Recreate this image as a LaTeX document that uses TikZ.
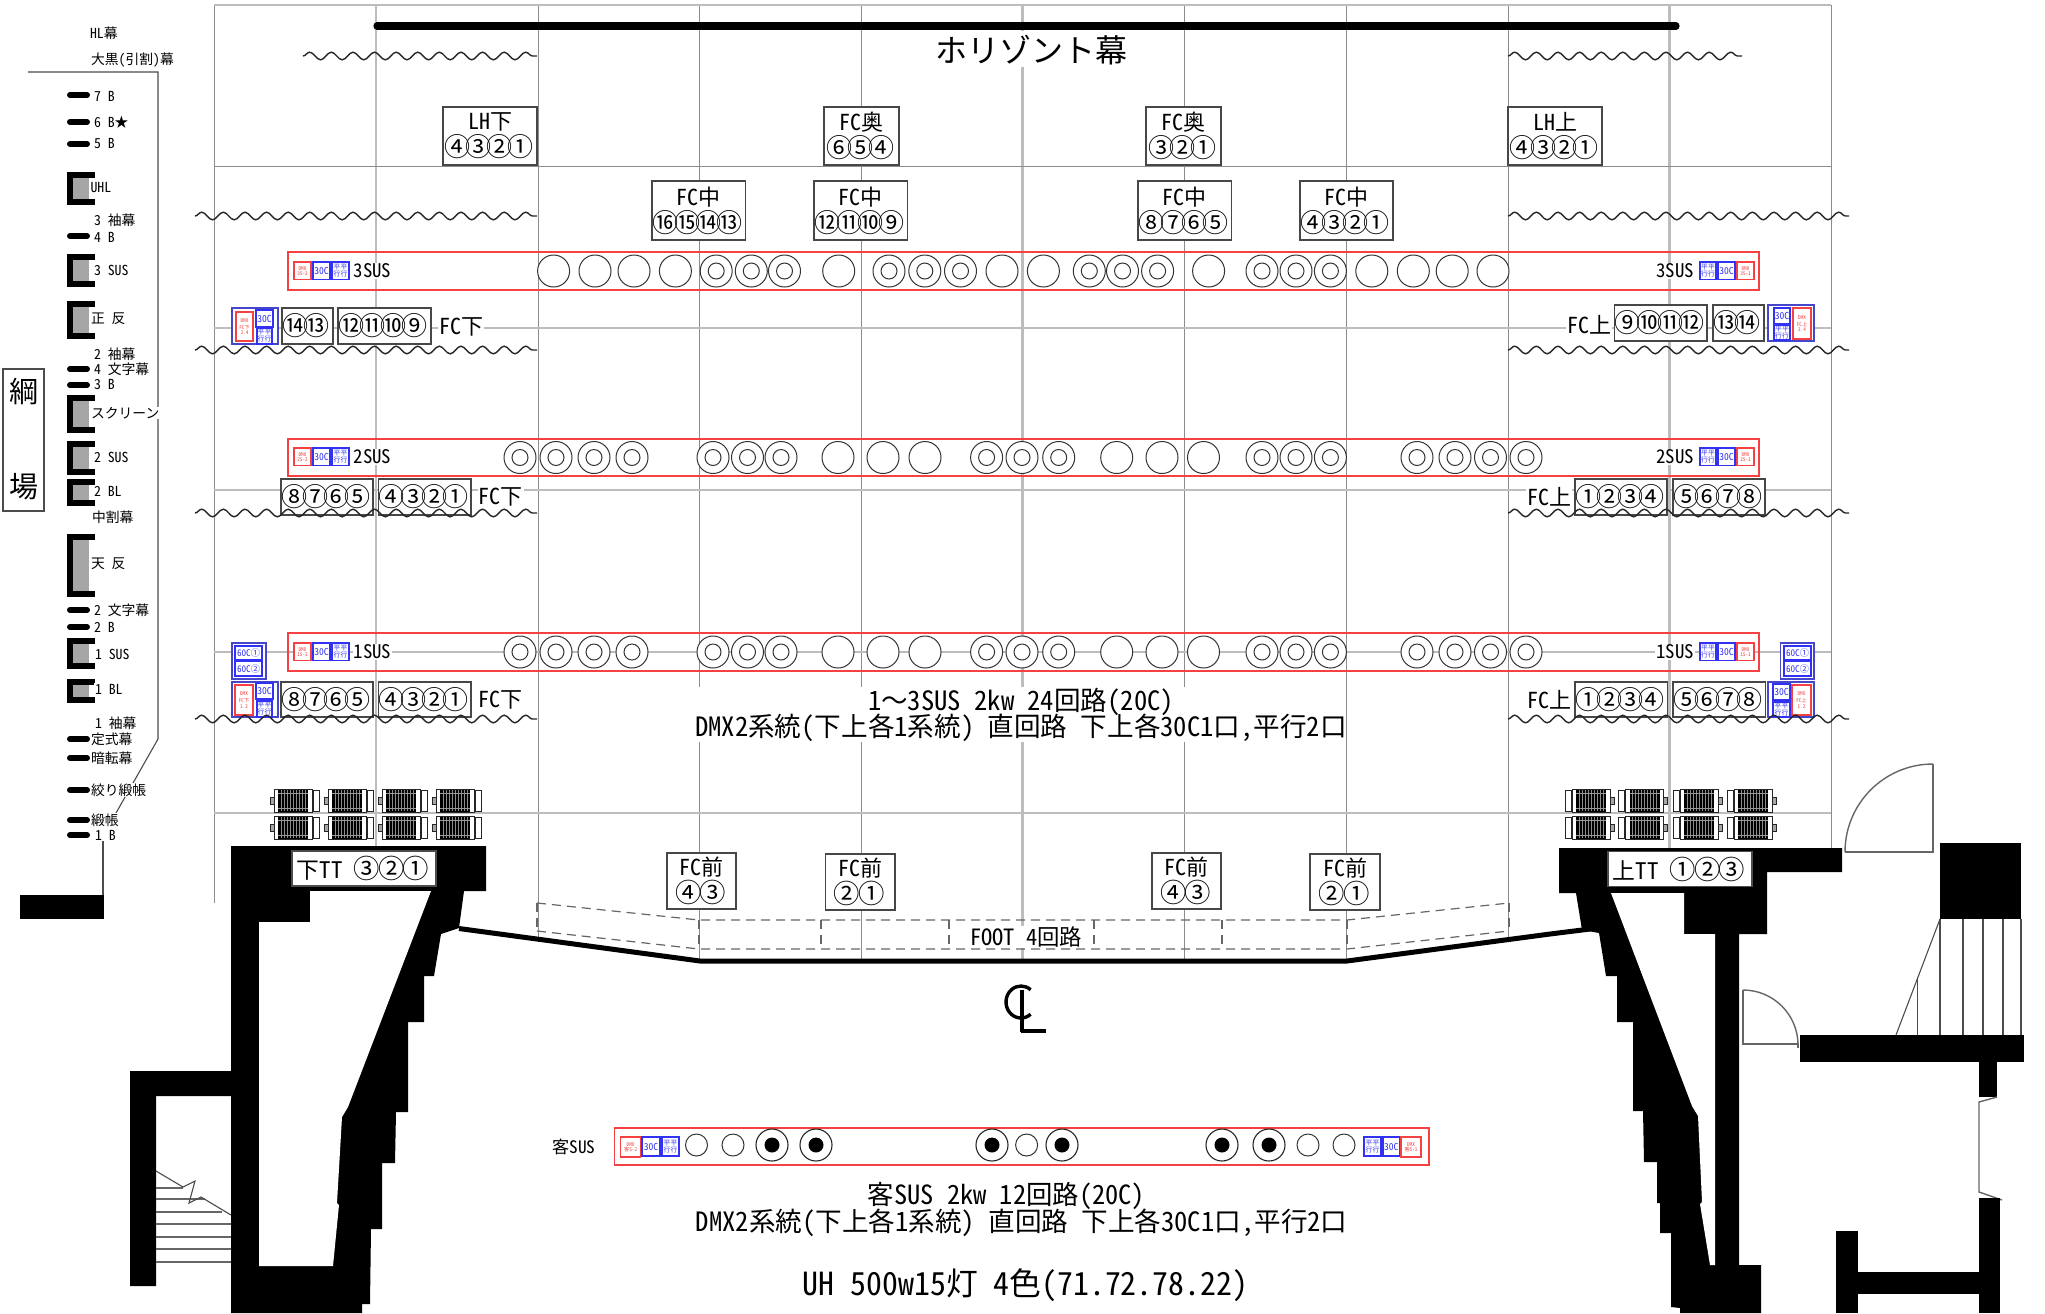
\documentclass[tikz,border=0pt]{standalone}
\usepackage{fontspec}
\usetikzlibrary{decorations.pathmorphing}
\setmainfont{Noto Sans CJK JP}[RawFeature=+hwid]
\newfontfamily\plainjp{Noto Sans CJK JP}
\newfontfamily\circf{Noto Sans CJK JP}[LetterSpace=-19]
\newfontfamily\circg{Noto Sans CJK JP}[LetterSpace=-7]
\definecolor{lred}{RGB}{245,65,65}
\definecolor{lblue}{RGB}{50,50,245}
\definecolor{dblue}{RGB}{70,70,205}
\tikzset{
  thinv/.style={draw=black!45,line width=.48pt},
  thickv/.style={draw=black!26,line width=1.05pt},
  wavy/.style={draw=black!85,line width=.7pt,decorate,decoration={snake,segment length=10.8pt,amplitude=1.9pt}},
  susrect/.style={draw=lred,line width=.7pt},
  boxline/.style={draw=black!72,line width=.6pt,fill=white},
  dashl/.style={draw=black!60,line width=.6pt,dash pattern=on 4.5pt off 3pt},
  thinblk/.style={draw=black!70,line width=.55pt},
  grayl/.style={draw=black!60,line width=.7pt},
}
\newcommand\fs[2]{\fontsize{#1}{#2}\selectfont}
\newcommand\cn[1]{{\circf\fs{13}{13.4}#1}\kern1.2pt}
\newcommand\cm[1]{{\circg\fs{13.2}{13.4}#1}\kern.9pt}
\newcommand\lbl[3]{\node[anchor=west,inner sep=.3pt,fill=white,font=\fs{6.9}{8}] at (#1,#2) {#3};}
\newcommand\txt[4]{\node[inner sep=.5pt,fill=white,font=\fs{#3}{#3}] at (#1,#2) {#4};}
\newcommand\bbx[6]{\draw[boxline] (#1,#2) rectangle node[align=center,inner sep=0,font=\fs{#5}{13.4}] {#6} (#3,#4);}
\newcommand\redbx[6][2.6]{\draw[draw=lred,line width=.6pt,fill=white] (#2,#3) rectangle node[align=center,inner sep=0,text=lred,font=\fs{#1}{#1}] {#6} (#4,#5);}
\newcommand\bluebx[6][3.4]{\draw[draw=lblue,line width=.55pt,fill=white] (#2,#3) rectangle node[align=center,inner sep=0,text=lblue,font=\fs{#1}{#1}] {#6} (#4,#5);}
\newcommand\grpbx[4]{\draw[draw=dblue,line width=.7pt,fill=white] (#1,#2) rectangle (#3,#4);}
\newcommand\blkbar[1]{\draw[line width=3pt,line cap=round] (70,#1) -- (87,#1);}
\newcommand\cbx[2]{\fill[black] (67,#1) rectangle (95,#2);\fill[black!35] (73,#1+6) rectangle (89,#2-6);\fill[white] (89,#1+6) rectangle (96,#2-6);}
\newcommand\lamp[3]{\begin{scope}[shift={(#1,#2)},xscale=#3]
  \draw[black!85,line width=.35pt,fill=black!35] (0,8) rectangle (4,15);
  \draw[black!85,line width=.5pt,fill=white] (4,0) rectangle (42,23);
  \fill[black] (8,0.5) rectangle (38,22.5);
  \foreach \k in {11,14,...,35}{\draw[black!45,line width=.14pt] (\k,1) -- (\k,22);}
  \draw[black!40,line width=.18pt] (8,4) -- (38,4) (8,19) -- (38,19);
  \draw[black!85,line width=.45pt,fill=white] (43,1) rectangle (49,22);
  \end{scope}}
\newcommand\csus[3]{\draw[black!80,line width=.5pt,fill=white] (#1,#2) circle[radius=#3];}
\newcommand\dsus[2]{\draw[black!80,line width=.5pt,fill=white] (#1,#2) circle[radius=16] (#1,#2) circle[radius=8];}
\newcommand\fsus[2]{\draw[black!85,line width=.55pt,fill=white] (#1,#2) circle[radius=16];\fill[black] (#1,#2) circle[radius=7.5];}
\begin{document}
\begin{tikzpicture}[x=0.5pt,y=-0.5pt]
\useasboundingbox[fill=white] (0,0) rectangle (2045,1313);
% ---- grid
\foreach \x/\yb in {538/937,699/961,861/963,1184/963,1346/961,1508/937}{\draw[thinv] (\x,5) -- (\x,\yb);}
\draw[thinv] (214,5) -- (214,903);
\draw[thinv] (1831,5) -- (1831,848);
\draw[thickv] (376,5) -- (376,846);
\draw[thickv] (1669.5,5) -- (1669.5,848);
\draw[thickv] (1022.5,5) -- (1022.5,963);
\draw[thickv] (214,5) -- (1831,5);
\draw[thinv] (214,166) -- (1831,166);
\foreach \y in {328,490,652,813}{\draw[thickv] (214,\y) -- (1831,\y);}
% ---- horizont
\fill[white] (935,31) rectangle (1127,67);
\draw[line width=3.6pt,line cap=round] (377,26) -- (1676,26);
\node[inner sep=0,font=\fs{16}{16}] (horizont) at (1031,50) {ホリゾント幕};
% ---- upper boxes
\bbx{443}{107}{537}{165}{11}{LH下\\\cn{④③②①}}
\bbx{824}{107}{899}{165}{11}{FC奥\\\cn{⑥⑤④}}
\bbx{1146}{107}{1221}{165}{11}{FC奥\\\cn{③②①}}
\bbx{1508}{107}{1602}{165}{11}{LH上\\\cn{④③②①}}
\bbx{652}{181}{745.5}{240}{11}{FC中\\\cn{⑯⑮⑭⑬}}
\bbx{814}{181}{907.5}{240}{11}{FC中\\\cn{⑫⑪⑩⑨}}
\bbx{1138}{181}{1231.5}{240}{11}{FC中\\\cn{⑧⑦⑥⑤}}
\bbx{1300}{181}{1393}{240}{11}{FC中\\\cn{④③②①}}
% ---- SUS bars
\draw[susrect] (288,252) rectangle (1759,290);
\draw[susrect] (288,439) rectangle (1759,476);
\draw[susrect] (288,633) rectangle (1759,671);
\foreach \x in {553.6,595,634,675.4,838.7,1002,1043.4,1208.6,1371.8,1413.3,1452.2,1493}{\csus{\x}{271}{16}}
\foreach \x in {716.2,751.3,784.5,889,924.8,960.5,1089.3,1122.5,1157.6,1262,1296,1330.4}{\dsus{\x}{271}}
\foreach \y in {457.5,652}{
  \foreach \x in {838,883,925,1116.7,1162,1203.5}{\csus{\x}{\y}{16}}
  \foreach \x in {520,556,594,632,713,747.5,781,986.6,1022,1058.7,1262,1296,1330.4,1417,1455,1490.5,1526}{\dsus{\x}{\y}}
}
% SUS tags
\foreach \y/\n in {271/3,457/2,652/1}{
  \redbx{294}{\y-9}{311}{\y+8.5}{DMX\\\n S-2}
  \bluebx[4.8]{313}{\y-9}{330}{\y+8.5}{30C}
  \bluebx{332}{\y-9}{349}{\y+8.5}{平平\\行行}
  \txt{372.5}{\y}{9.4}{\n SUS}
  \bluebx{1700}{\y-9}{1716}{\y+8.5}{平平\\行行}
  \bluebx[4.8]{1718}{\y-9}{1735}{\y+8.5}{30C}
  \redbx{1737}{\y-9}{1754}{\y+8.5}{DMX\\\n S-1}
  \txt{1675}{\y}{9.4}{\n SUS}
}
% ---- FC rows left
\grpbx{232}{308}{278}{344}
\redbx[2.6]{236}{312}{253}{341}{DMX\\[1pt]FC下\\3.4}
\bluebx[4.8]{256}{310}{273}{327}{30C}
\bluebx{257}{328}{272}{344}{平平\\行行}
\bbx{282}{308}{333}{344}{11.4}{\cn{⑭⑬}}
\bbx{338}{308}{431}{344}{11.4}{\cn{⑫⑪⑩⑨}}
\txt{461}{327}{11}{FC下}
\bbx{281}{479}{373}{515}{11.4}{\cn{⑧⑦⑥⑤}}
\bbx{378.5}{479}{471}{515}{11.4}{\cn{④③②①}}
\txt{500.5}{497}{11}{FC下}
\grpbx{232}{643}{266}{679}
\bluebx[4.6]{235}{646}{262}{660}{60C①}
\bluebx[4.6]{235}{661}{262}{676}{60C②}
\grpbx{232}{682}{278}{717}
\redbx[2.6]{235}{685}{253}{715}{DMX\\[1pt]FC下\\1.2}
\bluebx[4.8]{256}{683}{273}{699}{30C}
\bluebx{257}{701}{272}{717}{平平\\行行}
\bbx{281}{682}{373}{717}{11.4}{\cn{⑧⑦⑥⑤}}
\bbx{378.5}{682}{471}{717}{11.4}{\cn{④③②①}}
\txt{500.5}{700}{11}{FC下}
% ---- FC rows right
\txt{1589}{325}{11}{FC上}
\bbx{1614.5}{305}{1707}{341}{11.4}{\cn{⑨⑩⑪⑫}}
\bbx{1713}{305}{1764}{341}{11.4}{\cn{⑬⑭}}
\grpbx{1768}{305}{1814}{341}
\bluebx[4.8]{1774}{308}{1790}{324}{30C}
\bluebx{1774}{325}{1790}{340}{平平\\行行}
\redbx[2.6]{1793}{308}{1811}{339}{DMX\\[1pt]FC上\\3.4}
\txt{1549}{497}{11}{FC上}
\bbx{1575}{479}{1667}{515}{11.4}{\cn{①②③④}}
\bbx{1673}{479}{1765}{515}{11.4}{\cn{⑤⑥⑦⑧}}
\grpbx{1780.5}{643}{1814}{679}
\bluebx[4.6]{1784}{646}{1811}{660}{60C①}
\bluebx[4.6]{1784}{661}{1811}{676}{60C②}
\txt{1549}{700}{11}{FC上}
\bbx{1575}{682}{1667.5}{717}{11.4}{\cn{①②③④}}
\bbx{1673}{682}{1765.5}{717}{11.4}{\cn{⑤⑥⑦⑧}}
\grpbx{1768}{682}{1814}{717}
\bluebx[4.8]{1773}{684}{1790}{700}{30C}
\bluebx{1773}{702}{1790}{717}{平平\\行行}
\redbx[2.6]{1792}{685}{1811}{715}{DMX\\[1pt]FC上\\1.2}
% ---- waves
\draw[wavy] (303,56) -- (537,56);
\draw[wavy] (1508,56) -- (1742,56);
\foreach \y in {216,350,513,719}{
  \draw[wavy] (195,\y) -- (537,\y);
  \draw[wavy] (1508,\y) -- (1849,\y);
}
% ---- central texts
\fill[white] (695,687) rectangle (1346,742);
\node[inner sep=0,font=\fs{13.3}{14}] (t1) at (1021,702) {1{\plainjp ～}3SUS 2kw 24回路(20C)};
\node[inner sep=0,font=\fs{13.3}{14}] (t2) at (1021,728) {DMX2系統(下上各1系統) 直回路 下上各30C1口,平行2口};
% ---- lamps
\foreach \x in {270,324,378,432}{\lamp{\x}{789}{1}\lamp{\x}{816}{1}}
\foreach \x in {1614,1667.5,1722,1776}{\lamp{\x}{789}{-1}\lamp{\x}{816}{-1}}
% ---- FOOT
\draw[dashl] (537,903) -- (699,920) -- (1347,920) -- (1509,903);
\draw[dashl] (537,931) -- (699,949) -- (1347,949) -- (1509,931);
\foreach \x/\ya/\yb in {537/903/931,699/920/949,821/920/949,949/920/949,1094/920/949,1222/920/949,1347/920/949,1509/903/931}{\draw[dashl] (\x,\ya) -- (\x,\yb);}
\txt{1026}{937}{11.2}{FOOT 4回路}
% ---- FC front
\bbx{667}{853}{736}{909}{11}{FC前\\\cm{④③}}
\bbx{825.5}{854}{895}{910}{11}{FC前\\\cm{②①}}
\bbx{1152}{853}{1221}{909}{11}{FC前\\\cm{④③}}
\bbx{1310}{854}{1380}{910}{11}{FC前\\\cm{②①}}
% ---- floor
\draw[line width=2.5pt,line join=miter] (459,928.5) -- (700,961) -- (1347,961) -- (1550,934) -- (1590,929);
% ---- CL
\draw[line width=1.7pt] (1021,1002) ++(50:15 and 16) arc[start angle=50,end angle=310,x radius=15,y radius=16];
\draw[line width=1.6pt] (1022,990) -- (1022,1032);
\draw[line width=1.6pt] (1021,1031) -- (1046,1031);
% ---- left building
\fill[black] (231,846) -- (486,846) -- (486,891) -- (464,891) -- (459,928) -- (441,934) -- (434,976) -- (424,976) -- (424,1022) -- (408,1022) -- (408,1112) -- (396,1112) -- (395,1163) -- (382,1163) -- (382,1229) -- (371,1229) -- (370,1304) -- (362,1304) -- (362,1313) -- (231,1313) -- cycle;
\fill[white] (259,922) -- (310,922) -- (310,891) -- (431,891) -- (348,1107) -- (342,1117) -- (337,1203) -- (339,1205) -- (333,1266) -- (259,1266) -- cycle;
\fill[black] (130,1071) -- (231,1071) -- (231,1096) -- (156,1096) -- (156,1286) -- (130,1286) -- cycle;
\foreach \y/\x in {1188/183,1199/205,1212/222,1224/231,1237/231,1249/231,1262/231}{\draw[grayl] (156,\y) -- (\x,\y);}
\draw[thinblk] (156,1171) -- (183,1187) -- (195,1181) -- (189,1203) -- (201,1197) -- (231,1215);
\node[draw=black!70,line width=.6pt,fill=white,minimum width=72pt,minimum height=17.5pt,inner sep=0,font=\fs{11.4}{12}] (ttl) at (364,868.5) {下TT \cm{③②①}};
% ---- right building
\fill[black] (1559,848) -- (1842,848) -- (1842,872) -- (1767,872) -- (1767,934) -- (1739,934) -- (1739,1265) -- (1761,1265) -- (1761,1313) -- (1680,1313) -- (1680,1308) -- (1671,1307) -- (1671,1233) -- (1660,1233) -- (1660,1203) -- (1657,1203) -- (1657,1162) -- (1644,1162) -- (1643,1111) -- (1633,1111) -- (1633,1022) -- (1617,1022) -- (1617,976) -- (1606,976) -- (1599,933) -- (1582,930) -- (1576,893) -- (1559,893) -- cycle;
\fill[white] (1611,893) -- (1684,893) -- (1684,934) -- (1715,934) -- (1715,1265) -- (1710,1265) -- (1700,1204) -- (1702,1202) -- (1698,1116) -- (1692,1106) -- cycle;
\node[draw=black!70,line width=.6pt,fill=white,minimum width=72pt,minimum height=17.5pt,inner sep=0,font=\fs{11.4}{12}] (ttr) at (1680,869) {上TT \cm{①②③}};
% doors
\draw[grayl] (1933,764) -- (1933,852) -- (1845,852);
\draw[grayl] (1845,852) arc[start angle=180,end angle=270,radius=88];
\draw[grayl] (1798,1048) -- (1798,1044) -- (1743,1044) -- (1743,990);
\draw[grayl] (1743,990) arc[start angle=270,end angle=360,radius=55];
% right stairs
\fill[black] (1940,843) rectangle (2021,919);
\foreach \x in {1940,1963,1983,2003,2021}{\draw[thinblk] (\x,919) -- (\x,1036);}
\draw[thinblk] (1917.5,977) -- (1917.5,1036);
\draw[thinblk] (1940,919) -- (1896,1035);
\fill[black] (1800,1035) rectangle (2024,1062);
\fill[black] (1979,1062) rectangle (1997,1097);
\draw[grayl] (1997,1097) -- (1979,1102) -- (1979,1192) -- (2002,1200);
\fill[black] (1979,1198) rectangle (2000,1313);
\fill[black] (1858,1272) rectangle (1979,1294);
\fill[black] (1836,1231) rectangle (1858,1313);
% ---- audience SUS
\draw[susrect] (614.6,1128) rectangle (1429,1165);
\redbx[2.6]{620.6}{1137}{640.6}{1157}{DMX\\客S-2}
\bluebx[4.8]{642}{1137}{660}{1156}{30C}
\bluebx{662}{1137}{679}{1156}{平平\\行行}
\bluebx{1364}{1137}{1381}{1156}{平平\\行行}
\bluebx[4.8]{1383}{1137}{1399.5}{1156}{30C}
\redbx[2.6]{1401}{1137}{1421}{1157}{DMX\\客S-1}
\foreach \x in {696.5,733,1026.6,1308,1344}{\csus{\x}{1145}{11}}
\foreach \x in {772,816,992,1062,1222,1269}{\fsus{\x}{1145}}
\node[inner sep=0,font=\fs{8.6}{9}] (kyaku) at (574,1147) {客SUS};
\node[inner sep=0,font=\fs{13.2}{14}] (t3) at (1006.5,1196) {客SUS 2kw 12回路(20C)};
\node[inner sep=0,font=\fs{13.3}{14}] (t4) at (1021.7,1223) {DMX2系統(下上各1系統) 直回路 下上各30C1口,平行2口};
\node[inner sep=0,font=\fs{15.9}{16}] (t5) at (1025.5,1285) {UH 500w15灯 4色(71.72.78.22)};
% ---- left column
\draw[thinblk] (28,72) -- (158,72) -- (158,739) -- (116,813);
\draw[thinblk] (103,840) -- (103,896);
\fill[black] (20,895) rectangle (104,919);
\node[draw=black!70,line width=.6pt,minimum width=20.5pt,minimum height=71pt,inner sep=0] (ami) at (23.5,440) {};
\node[inner sep=0,font=\fs{14.5}{15}] (ami1) at (24,391) {綱};
\node[inner sep=0,font=\fs{14.5}{15}] (ami2) at (24,487) {場};
\foreach \y in {95,122,144,236,369,385,610,627,739,758,790,820,835}{\blkbar{\y}}
\cbx{172}{205}\cbx{254}{287}\cbx{301}{339}\cbx{395}{433}\cbx{441}{475}\cbx{479}{506}\cbx{534}{597}\cbx{638}{669}\cbx{679}{703}
\lbl{89}{33}{HL幕}
\lbl{90}{60}{大黒(引割)幕}
\lbl{93}{96}{7 B}
\lbl{93}{122}{6 B★}
\lbl{93}{144}{5 B}
\lbl{89.5}{188}{UHL}
\lbl{93}{220}{3 袖幕}
\lbl{93}{237}{4 B}
\lbl{93}{270}{3 SUS}
\lbl{90}{319}{正 反}
\lbl{93}{354}{2 袖幕}
\lbl{93}{369}{4 文字幕}
\lbl{93}{385}{3 B}
\lbl{90}{413}{スクリーン}
\lbl{93}{457}{2 SUS}
\lbl{93}{491}{2 BL}
\lbl{91}{517}{中割幕}
\lbl{90}{564}{天 反}
\lbl{93}{610}{2 文字幕}
\lbl{93}{627}{2 B}
\lbl{94}{654}{1 SUS}
\lbl{94}{689}{1 BL}
\lbl{94}{723}{1 袖幕}
\lbl{90}{739}{定式幕}
\lbl{90}{758}{暗転幕}
\lbl{90}{790}{絞り緞帳}
\lbl{90}{820}{緞帳}
\lbl{94}{835}{1 B}
\end{tikzpicture}
\end{document}
